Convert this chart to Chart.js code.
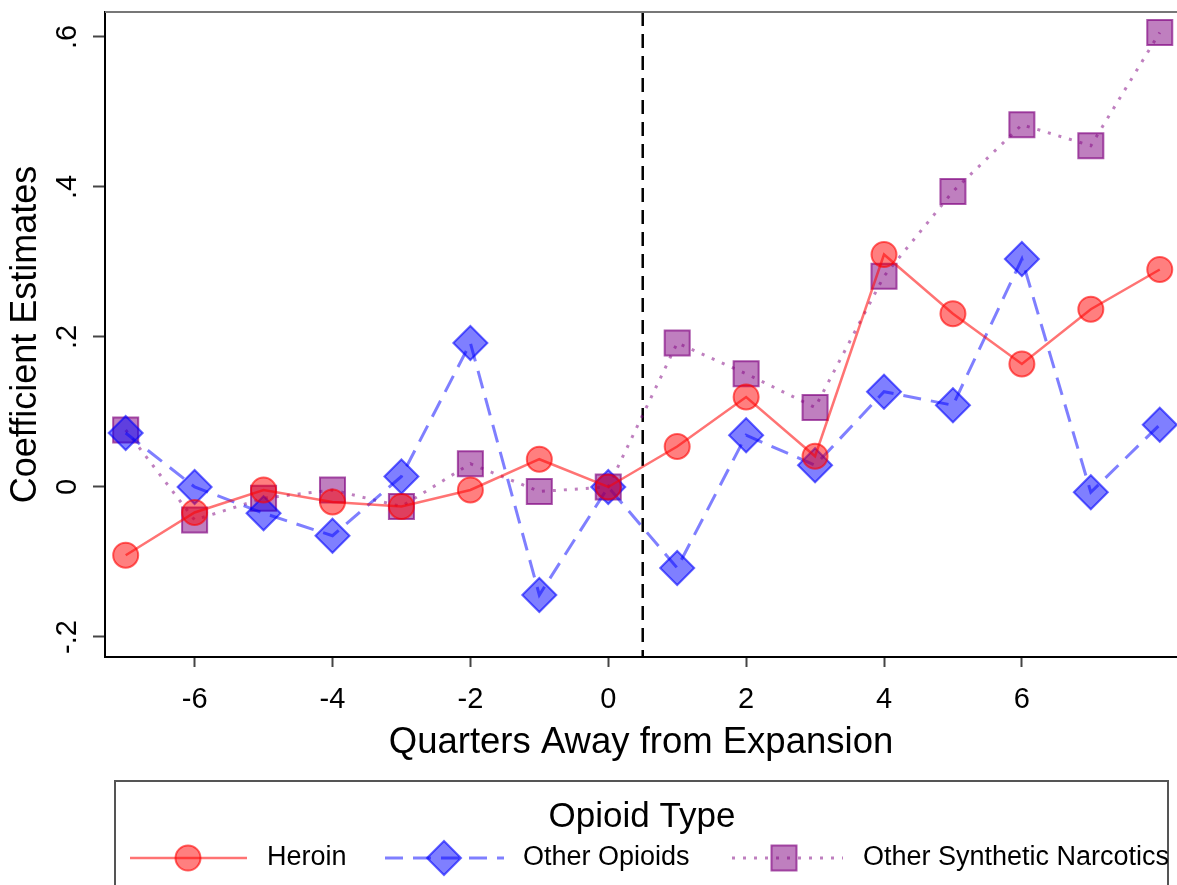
<!DOCTYPE html>
<html>
<head>
<meta charset="utf-8">
<script src="https://cdn.jsdelivr.net/npm/chart.js@4.4.1/dist/chart.umd.min.js"></script>
<style>
  html, body { margin: 0; padding: 0; background: #fff; }
  #wrap { width: 1177px; height: 885px; position: relative; }
</style>
</head>
<body>
<div id="wrap"><canvas id="eventStudy"></canvas></div>
<script>
// quarters relative to expansion
const quarters = [-7, -6, -5, -4, -3, -2, -1, 0, 1, 2, 3, 4, 5, 6, 7, 8];

const heroin = [-0.091, -0.034, -0.004, -0.020, -0.026, -0.004, 0.037, 0, 0.054, 0.120, 0.041, 0.310, 0.231, 0.164, 0.237, 0.290];
const otherOpioids = [0.072, 0, -0.035, -0.065, 0.014, 0.192, -0.144, 0, -0.108, 0.069, 0.029, 0.127, 0.109, 0.304, -0.007, 0.083];
const otherSynthetic = [0.076, -0.044, -0.015, -0.004, -0.026, 0.031, -0.006, 0, 0.192, 0.151, 0.106, 0.281, 0.394, 0.483, 0.455, 0.606];

const xTicks = [-6, -4, -2, 0, 2, 4, 6];
const yTicks = [-0.2, 0, 0.2, 0.4, 0.6];
const yTickLabels = ['-.2', '0', '.2', '.4', '.6'];
const expansionAt = 0.5;

const FONT = '"Liberation Sans", Arial, sans-serif';

const toPoints = (ys) => quarters.map((q, i) => ({ x: q, y: ys[i] }));

// keep the plot area flush with the canvas edges
const noEdgePadding = (s) => {
  s.paddingLeft = 0;
  s.paddingRight = 0;
  s.paddingTop = 0;
  s.paddingBottom = 0;
};

// dashed reference line, top frame line and the boxed legend
const extras = {
  id: 'extras',
  beforeDatasetsDraw(chart) {
    const { ctx, chartArea, scales } = chart;
    const x = scales.x.getPixelForValue(expansionAt);
    ctx.save();
    ctx.strokeStyle = '#000';
    ctx.lineWidth = 2.5;
    ctx.setLineDash([14, 8]);
    ctx.beginPath();
    ctx.moveTo(x, chartArea.top);
    ctx.lineTo(x, chartArea.bottom);
    ctx.stroke();
    ctx.setLineDash([]);
    ctx.strokeStyle = '#777';
    ctx.lineWidth = 2;
    ctx.beginPath();
    ctx.moveTo(chartArea.left, chartArea.top);
    ctx.lineTo(chart.width, chartArea.top);
    ctx.stroke();
    ctx.restore();
  },
  afterDraw(chart) {
    const { ctx } = chart;
    ctx.save();
    ctx.strokeStyle = '#555';
    ctx.lineWidth = 2;
    ctx.strokeRect(115, 781, 1053, 140);

    ctx.fillStyle = '#000';
    ctx.font = '35px ' + FONT;
    ctx.textAlign = 'center';
    ctx.textBaseline = 'middle';
    ctx.fillText('Opioid Type', 642, 817);

    const rowY = 858;
    const items = [
      { ds: 0, x0: 130, x1: 247, mx: 188, tx: 267 },
      { ds: 1, x0: 385, x1: 504, mx: 444, tx: 523 },
      { ds: 2, x0: 732, x1: 843, mx: 784, tx: 863 }
    ];
    items.forEach(it => {
      const d = chart.data.datasets[it.ds];
      ctx.strokeStyle = d.borderColor;
      ctx.lineWidth = d.borderWidth;
      ctx.setLineDash(d.borderDash || []);
      ctx.beginPath();
      ctx.moveTo(it.x0, rowY);
      ctx.lineTo(it.x1, rowY);
      ctx.stroke();
      ctx.setLineDash([]);
      ctx.fillStyle = d.pointBackgroundColor;
      ctx.strokeStyle = d.pointBorderColor;
      ctx.lineWidth = d.pointBorderWidth;
      Chart.helpers.drawPoint(ctx, { pointStyle: d.pointStyle, radius: d.pointRadius, borderWidth: d.pointBorderWidth }, it.mx, rowY);
      ctx.fillStyle = '#000';
      ctx.font = '27px ' + FONT;
      ctx.textAlign = 'left';
      ctx.fillText(d.label, it.tx, rowY);
    });
    ctx.restore();
  }
};

new Chart(document.getElementById('eventStudy'), {
  type: 'line',
  data: {
    datasets: [
      {
        label: 'Heroin',
        data: toPoints(heroin),
        borderColor: 'rgba(255, 0, 0, 0.55)',
        borderWidth: 2.5,
        pointStyle: 'circle',
        pointRadius: 12.5,
        pointBackgroundColor: 'rgba(255, 0, 0, 0.5)',
        pointBorderColor: 'rgba(255, 0, 0, 0.6)',
        pointBorderWidth: 2
      },
      {
        label: 'Other Opioids',
        data: toPoints(otherOpioids),
        borderColor: 'rgba(0, 0, 255, 0.5)',
        borderWidth: 3,
        borderDash: [18, 10],
        pointStyle: 'rectRot',
        pointRadius: 17,
        pointBackgroundColor: 'rgba(0, 0, 255, 0.5)',
        pointBorderColor: 'rgba(0, 0, 255, 0.6)',
        pointBorderWidth: 2
      },
      {
        label: 'Other Synthetic Narcotics',
        data: toPoints(otherSynthetic),
        borderColor: 'rgba(128, 0, 128, 0.5)',
        borderWidth: 3,
        borderDash: [3, 8],
        pointStyle: 'rect',
        pointRadius: 17.7,
        pointBackgroundColor: 'rgba(128, 0, 128, 0.5)',
        pointBorderColor: 'rgba(128, 0, 128, 0.65)',
        pointBorderWidth: 2
      }
    ]
  },
  options: {
    responsive: true,
    maintainAspectRatio: false,
    animation: false,
    clip: false,
    layout: { autoPadding: false, padding: { top: 12, right: 0, bottom: 120, left: 0 } },
    elements: { line: { tension: 0 } },
    plugins: { legend: { display: false }, tooltip: { enabled: false } },
    scales: {
      x: {
        type: 'linear',
        min: -7.3,
        max: 8.25,
        afterFit: (s) => { s.height = 108; noEdgePadding(s); },
        afterBuildTicks: (s) => { s.ticks = xTicks.map(v => ({ value: v })); },
        grid: { drawOnChartArea: false, tickLength: 10, color: '#444', tickWidth: 2 },
        border: { display: true, color: '#000', width: 2 },
        ticks: {
          color: '#000',
          padding: 16,
          maxRotation: 0,
          font: { family: FONT, size: 29 }
        },
        title: {
          display: true,
          text: 'Quarters Away from Expansion',
          color: '#000',
          padding: { top: 0, bottom: 0 },
          font: { family: FONT, size: 36.5 }
        }
      },
      y: {
        min: -0.2267,
        max: 0.6333,
        afterFit: (s) => { s.width = 105; noEdgePadding(s); },
        afterBuildTicks: (s) => { s.ticks = yTicks.map(v => ({ value: v })); },
        grid: { drawOnChartArea: false, tickLength: 12, color: '#444', tickWidth: 2 },
        border: { display: true, color: '#000', width: 2 },
        ticks: {
          color: '#000',
          padding: 8,
          minRotation: 90,
          maxRotation: 90,
          crossAlign: 'center',
          font: { family: FONT, size: 29 },
          callback: (v) => yTickLabels[yTicks.findIndex(t => Math.abs(t - v) < 1e-9)]
        },
        title: {
          display: true,
          text: 'Coefficient Estimates',
          color: '#000',
          padding: { top: 4, bottom: 0 },
          font: { family: FONT, size: 36 }
        }
      }
    }
  },
  plugins: [extras]
});
</script>
</body>
</html>
